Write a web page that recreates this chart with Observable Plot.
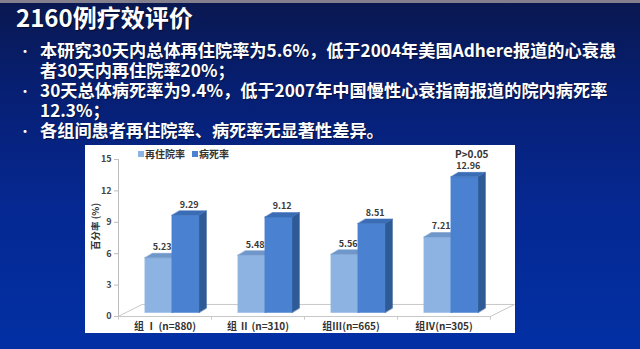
<!DOCTYPE html>
<html>
<head>
<meta charset="utf-8">
<script src="https://cdn.jsdelivr.net/npm/d3@7"></script>
<script src="https://cdn.jsdelivr.net/npm/@observablehq/plot@0.6"></script>
<style>
  html, body { margin: 0; padding: 0; }
  body { width: 640px; height: 349px; overflow: hidden; font-family: "Noto Sans CJK SC", "Noto Sans", sans-serif; }
  #slide { position: relative; width: 640px; height: 349px;
    background: linear-gradient(to bottom, #0a1850 0%, #071f72 25%, #052892 60%, #0230a4 100%); overflow: hidden; }
  #topbar { position: absolute; left: 0; top: 0; width: 640px; height: 3px; background: #85808e; }
  #title { position: absolute; left: 16px; top: 2px; color: #fff; font-weight: 700; font-size: 24px; line-height: 30px;
    text-shadow: 1px 1px 1px rgba(0,0,0,0.5); white-space: nowrap; }
  .line { position: absolute; left: 40px; color: #fff; font-weight: 700; font-size: 17.2px; line-height: 20px; white-space: nowrap;
    text-shadow: 1px 1px 1px rgba(0,0,0,0.45); }
  .dot { position: absolute; left: 18px; color: #fff; font-size: 14px; line-height: 20px; }
  #chart { position: absolute; left: 85px; top: 145px; width: 430px; height: 188px; background: #fff; }
  #chart svg { display: block; }
  .leg { position: absolute; font-size: 10px; font-weight: 700; color: #333; line-height: 12px; white-space: nowrap; }
  .sw { position: absolute; width: 6px; height: 6px; }
  #ylab { position: absolute; left: 73px; top: 222px; width: 44px; text-align: center; transform: rotate(-90deg);
    font-size: 9.5px; font-weight: 700; color: #333; line-height: 12px; white-space: nowrap; }
</style>
</head>
<body>
<div id="slide">
  <div id="topbar"></div>
  <div id="title">2160例疗效评价</div>
  <div id="chart"></div>
</div>
<script>
// ---- data ----
const titleText = "2160例疗效评价";
const bulletLines = [
  "本研究30天内总体再住院率为5.6%，低于2004年美国Adhere报道的心衰患",
  "者30天内再住院率20%；",
  "30天总体病死率为9.4%，低于2007年中国慢性心衰指南报道的院内病死率",
  "12.3%；",
  "各组间患者再住院率、病死率无显著性差异。"
];
const bulletStarts = [true, false, true, false, true];
const groups = ["组 Ⅰ (n=880)", "组 Ⅱ (n=310)", "组III(n=665)", "组Ⅳ(n=305)"];
const seriesNames = ["再住院率", "病死率"];
const readmission = [5.23, 5.48, 5.56, 7.21];
const mortality = [9.29, 9.12, 8.51, 12.96];
const yTicks = [0, 3, 6, 9, 12, 15];
const yLabel = "百分率 (%)";
const note = "P>0.05";

// ---- slide text ----
const slide = document.getElementById("slide");
const lineTops = [40, 60, 80, 100, 120];
bulletLines.forEach((t, i) => {
  const d = document.createElement("div");
  d.className = "line"; d.style.top = lineTops[i] + "px"; d.textContent = t;
  slide.appendChild(d);
  if (bulletStarts[i]) {
    const b = document.createElement("div");
    b.className = "dot"; b.style.top = lineTops[i] + "px"; b.textContent = "·";
    slide.appendChild(b);
  }
});

// ---- chart geometry helpers ----
const colors = {
  lightFront: "#8db3e3", lightTop: "#7097ca", lightSide: "#5f83b5",
  darkFront: "#4a81d0", darkTop: "#3b6db6", darkSide: "#2e5a96"
};
const bw = 0.29, dX = 0.08, dY = 0.43;
const bars = [];
groups.forEach((g, i) => {
  [readmission[i], mortality[i]].forEach((v, s) => {
    const x1 = i - bw + s * bw, x2 = x1 + bw;
    bars.push({i, s, v, x1, x2});
  });
});
function poly(kind, s) {
  const out = [];
  bars.filter(b => b.s === s).forEach((b, k) => {
    let pts;
    if (kind === "front") pts = [[b.x1, 0], [b.x2, 0], [b.x2, b.v], [b.x1, b.v]];
    else if (kind === "top") pts = [[b.x1, b.v], [b.x2, b.v], [b.x2 + dX, b.v + dY], [b.x1 + dX, b.v + dY]];
    else pts = [[b.x2, 0], [b.x2, b.v], [b.x2 + dX, b.v + dY], [b.x2 + dX, dY]];
    pts.forEach(p => out.push({id: k, x: p[0], y: p[1]}));
  });
  return out;
}
const floorDX = 0.258, floorDY = 1.15;
const floor = [
  {x: -0.5, y: 0}, {x: 3.5, y: 0}, {x: 3.5 + floorDX, y: floorDY}, {x: -0.5 + floorDX, y: floorDY}
];
const boundaries = [-0.5, 0.5, 1.5, 2.5, 3.5];
const faceMark = (kind, s, color) => Plot.line(poly(kind, s), {
  x: "x", y: "y", z: "id", curve: "linear-closed", fill: color, stroke: color, strokeWidth: 0.5, dx: 7, dy: -4
});

const chart = Plot.plot({
  width: 430, height: 188,
  marginLeft: 33, marginRight: 25, marginTop: 14, marginBottom: 17,
  style: {background: "#fff", fontFamily: "'Noto Sans CJK SC', sans-serif", overflow: "visible"},
  x: {type: "linear", domain: [-0.5, 3.5]},
  y: {domain: [0, 15]},
  marks: [
    Plot.line(floor, {x: "x", y: "y", curve: "linear-closed", stroke: "#c8c8c8", strokeWidth: 1, fill: "none"}),
    Plot.ruleX([-0.5], {y1: 0, y2: 15, stroke: "#bdbdbd"}),
    Plot.ruleX(boundaries, {y1: 0, y2: -0.35, stroke: "#c8c8c8"}),
    Plot.axisY({ticks: yTicks, tickSize: 4, tickPadding: 3, stroke: "#bdbdbd", fill: "#444",
      fontSize: 9, fontWeight: "bold", label: null}),
    Plot.axisX({ticks: [0, 1, 2, 3], tickFormat: i => groups[i], tickSize: 0, tickPadding: 6,
      fill: "#333", fontSize: 10, fontWeight: "bold", label: null}),
    faceMark("side", 0, colors.lightSide),
    faceMark("front", 0, colors.lightFront),
    faceMark("top", 0, colors.lightTop),
    faceMark("side", 1, colors.darkSide),
    faceMark("front", 1, colors.darkFront),
    faceMark("top", 1, colors.darkTop),
    Plot.text(bars, {x: b => (b.x1 + b.x2) / 2 + dX / 2, y: b => b.v + dY, text: b => b.v.toFixed(2),
      dx: 7, dy: -10, fontSize: 9, fontWeight: "bold", fill: "#3a3a3a"})
  ]
});
const box = document.getElementById("chart");
box.appendChild(chart);

// legend & annotations (page coordinates)
function addLeg(cls, left, top, text, color) {
  const d = document.createElement("div");
  d.className = cls; d.style.left = left + "px"; d.style.top = top + "px";
  if (text) d.textContent = text;
  if (color) d.style.background = color;
  slide.appendChild(d);
}
addLeg("sw", 138, 151, null, colors.lightFront);
addLeg("leg", 145, 148, seriesNames[0]);
addLeg("sw", 192, 151, null, colors.darkFront);
addLeg("leg", 199, 148, seriesNames[1]);
addLeg("leg", 455, 148, note);
const yl = document.createElement("div");
yl.id = "ylab"; yl.textContent = yLabel; slide.appendChild(yl);
</script>
</body>
</html>
